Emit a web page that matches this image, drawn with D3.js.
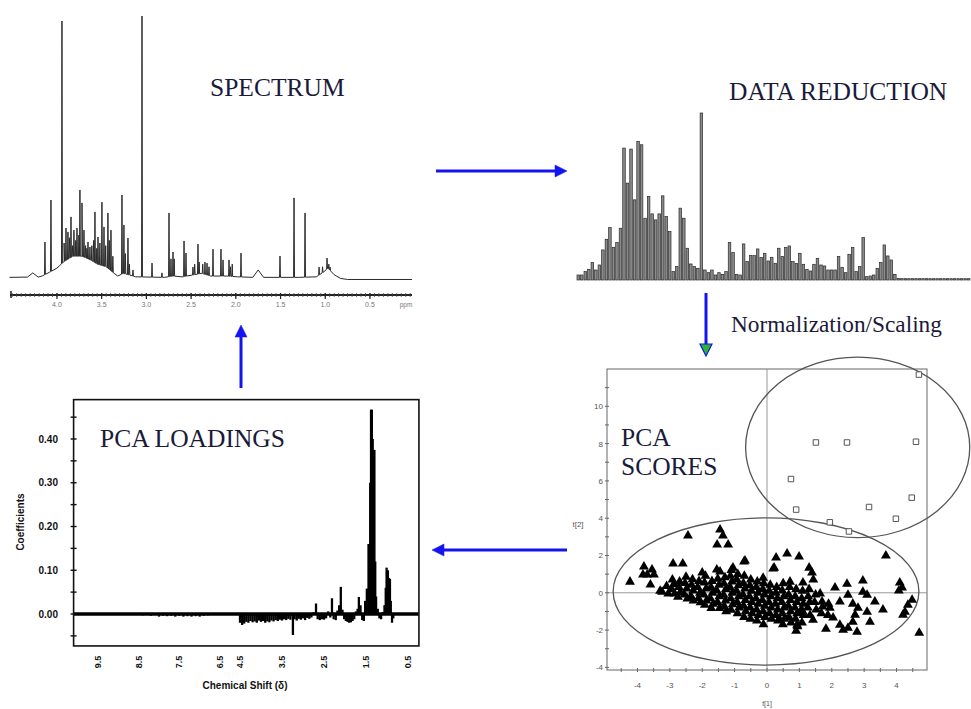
<!DOCTYPE html>
<html><head><meta charset="utf-8">
<script src="https://cdn.jsdelivr.net/npm/d3@7"></script>
<style>html,body{margin:0;padding:0;background:#fff}</style>
</head><body>
<svg id="fig" width="971" height="709"></svg>
<script>
// ---------- 1H NMR spectrum: peak tops [ppm, intensity] and the broad envelope beneath ----------
const spectrumPeaks = [
  [4.134,14.4],[4.067,30.3],[3.944,98.1],[3.92,14],[3.899,19.7],[3.877,18.2],[3.86,16],[3.843,23.9],
  [3.825,13],[3.810,18.9],[3.79,15],[3.776,19.7],[3.755,17],[3.743,34.1],[3.720,29.2],[3.698,18.9],
  [3.68,13],[3.665,12],[3.653,14.4],[3.631,12.5],[3.61,13],[3.59,15],[3.575,25.8],[3.555,12],
  [3.541,16.3],[3.52,14],[3.497,29.5],[3.474,20.1],[3.455,13],[3.430,25.4],[3.415,15],[3.396,18.9],
  [3.375,9],[3.273,32.2],[3.251,20.8],[3.235,10],[3.206,15.9],[3.19,6],[3.150,3.8],[3.049,100],
  [2.937,6.4],[2.826,2.7],[2.747,25.4],[2.725,8],[2.702,10.6],[2.689,8],[2.579,14.8],[2.557,10.2],
  [2.479,4.9],[2.46,6],[2.423,13.6],[2.41,6.8],[2.37,6],[2.345,6.8],[2.322,6.4],[2.30,5],
  [2.255,11.7],[2.166,11.7],[2.143,7.6],[2.076,7.6],[2.06,5],[2.04,6],[1.942,10.2],[1.506,9.1],
  [1.349,31.1],[1.226,25.4],[1.069,4.9],[1.03,5],[0.980,8.3],[0.96,6],[0.946,4.9]
];
const spectrumEnvelope = [
  [4.53,1.0],[4.33,1.1],[4.27,2.7],[4.21,1.1],[4.16,1.6],[4.08,3],[4.00,4.5],[3.92,7],[3.82,9],
  [3.72,9],[3.62,7.5],[3.55,6],[3.45,5],[3.38,3],[3.32,1.5],[3.26,2.5],[3.20,2],[3.12,1.2],
  [2.80,1.0],[2.70,1.5],[2.60,1.2],[2.50,1.8],[2.38,2.5],[2.28,1.5],[2.10,1.5],[1.98,1.2],
  [1.81,1.0],[1.75,3.8],[1.69,1.0],[1.30,1.0],[1.10,1.2],[1.02,3],[0.97,4.5],[0.90,2],
  [0.83,0.6],[0.75,0.2],[0.03,0.2]
];
const spectrumTicks = [4.0,3.5,3.0,2.5,2.0,1.5,1.0,0.5];

// ---------- data-reduced spectrum: one value per bucket ----------
const binnedValues = [
  3,3,5,6.4,10.4,6,9,18,24.4,31.4,19.6,22.4,31,79,58,78.4,48,83,81,37,
  50,39.6,36,39.6,50.4,38,29,5,8,43,37,19,9.6,8,7,100,6,4.4,6,3,
  4.4,3.4,5,22.4,16.4,3.4,3,21.6,11,14.6,14.6,18.6,13.4,16,11.4,13.6,10,19,14,19.4,
  20.4,11,10,16,9.4,6.4,5.4,9.4,13,9,8.4,6,6,6,14,7.6,4.4,15.4,19.4,5,
  8,25.4,2,2.4,3,7,10.4,21,14.4,12,3.4,1,
  0.8,0.8,0.8,0.8,0.8,0.8,0.8,0.8,0.8,0.8,0.8,0.8,0.8,0.8,0.8,0.8,0.8,0.8,0.8,0.8
];

// ---------- PCA loadings: [ppm, coefficient] ----------
const loadingValues = [
  [10.0,0],[9.8,-0.002],[9.5,-0.002],[9.2,0.001],[9.0,-0.002],[8.8,0],[8.6,-0.002],[8.4,-0.003],
  [8.2,-0.004],[8.0,-0.006],[7.9,-0.004],[7.8,-0.005],[7.7,-0.004],[7.6,-0.006],[7.5,-0.004],
  [7.4,-0.006],[7.3,-0.005],[7.2,-0.006],[7.1,-0.005],[7.0,-0.006],[6.9,-0.004],[6.8,-0.003],[6.6,-0.002],
  [4.50,-0.02],[4.45,-0.025],[4.40,-0.022],[4.35,-0.018],[4.30,-0.02],[4.25,-0.016],[4.20,-0.019],
  [4.15,-0.017],[4.10,-0.02],[4.05,-0.015],[4.00,-0.018],[3.95,-0.016],[3.90,-0.02],[3.85,-0.017],
  [3.80,-0.019],[3.75,-0.015],[3.70,-0.017],[3.65,-0.014],[3.60,-0.016],[3.55,-0.013],[3.50,-0.015],
  [3.45,-0.012],[3.40,-0.014],[3.35,-0.011],[3.30,-0.013],[3.24,-0.048],[3.20,-0.012],[3.15,-0.015],
  [3.10,-0.011],[3.05,-0.013],[3.00,-0.01],[2.95,-0.014],[2.90,-0.009],[2.85,-0.011],[2.80,-0.008],
  [2.75,0.004],[2.69,0.024],[2.65,-0.012],[2.60,-0.014],[2.55,-0.012],[2.50,-0.013],[2.45,-0.01],
  [2.40,0.006],[2.35,-0.008],[2.31,0.036],[2.27,-0.012],[2.22,-0.014],[2.18,0.008],[2.14,0.02],
  [2.10,0.062],[2.06,0.01],[2.02,-0.012],[1.98,-0.016],[1.94,-0.018],[1.90,-0.02],[1.86,-0.019],
  [1.82,-0.016],[1.78,-0.012],[1.74,0.006],[1.70,0.012],[1.67,0.039],[1.63,0.02],[1.59,-0.014],
  [1.55,-0.016],[1.52,0.03],[1.48,0.058],[1.44,0.16],[1.42,0.16],[1.40,0.3],[1.38,0.467],
  [1.36,0.467],[1.34,0.4],[1.32,0.375],[1.30,0.375],[1.28,0.12],[1.26,0.04],[1.22,0.012],[1.18,-0.01],
  [1.14,-0.012],[1.10,0.004],[1.06,0.02],[1.03,0.06],[1.01,0.106],[0.98,0.1],[0.95,0.082],[0.93,0.08],
  [0.91,0.03],[0.88,-0.02],[0.85,-0.01],[0.80,0],[0.5,0]
];
const loadingYTicks = [0.0,0.1,0.2,0.3,0.4];
const loadingXTicks = [9.5,8.5,7.5,6.5,4.5,3.5,2.5,1.5,0.5];

// ---------- PCA scores: t[1], t[2] ----------
const scoresTriangles = [
  [-4.23,0.59],[-3.8,1.4],[-3.7,0.97],[-3.55,1.24],[-3.49,0.97],[-3.6,0.43],[-3.83,0.97],[-3.24,0.05],
  [-2.44,3.06],[-1.45,3.39],[-1.36,3.06],[-1.54,2.58],[-1.2,2.58],[-2.9,1.56],[-2.6,1.56],[-1.55,1.24],
  [-1.45,1.13],[-0.71,1.67],[-0.12,0.8],[-2.0,1.08],[-1.05,1.34],[0.28,1.88],[0.62,2.1],[0.99,1.94],
  [0.22,1.34],[1.3,1.34],[1.39,1.08],[1.43,0.7],[3.67,1.99],[2.96,0.65],[2.47,0.48],[2.1,0.27],
  [4.1,0.54],[4.17,0.27],[4.07,0.11],[4.48,-0.38],[4.35,-0.65],[4.26,-1.02],[4.2,-1.18],[4.7,-2.15],
  [3.58,-0.91],[3.33,-0.48],[3.09,-0.11],[2.96,0.05],[2.65,-0.59],[2.81,-0.81],[3.09,-1.02],[3.18,-1.56],
  [2.72,-1.18],[2.65,-1.56],[2.78,-2.1],[2.5,-1.88],[2.35,-1.99],[2.25,-1.72],[1.82,-1.94],[2.04,-1.34],
  [2.25,-0.48],[2.5,-0.11],[1.94,-0.81],[1.7,-0.48],[1.64,-0.05],[1.42,-1.45],[0.9,-2.04],[0.93,-1.72],
  [0.4,-1.45],[1.11,-1.02],[0.71,0.59],[1.11,0.54],[0.19,1.29],[-0.68,1.72],
  [-3.3,0.1],[-3.1,0.35],[-3.05,-0.05],
  [-2.92,0.7],[-2.88,0.45],[-2.95,0.2],[-2.85,-0.05],
  [-2.7,0.6],[-2.72,0.3],[-2.68,0.02],[-2.75,-0.22],
  [-2.5,0.85],[-2.53,0.52],[-2.48,0.22],[-2.55,-0.1],[-2.46,-0.32],
  [-2.3,0.72],[-2.33,0.42],[-2.28,0.12],[-2.35,-0.18],[-2.27,-0.42],
  [-2.1,0.62],[-2.14,0.3],[-2.07,0.0],[-2.12,-0.3],[-2.05,-0.52],
  [-1.9,0.9],[-1.93,0.55],[-1.88,0.22],[-1.95,-0.1],[-1.87,-0.42],[-1.92,-0.65],
  [-1.7,0.62],[-1.73,0.3],[-1.68,0.0],[-1.75,-0.3],[-1.66,-0.6],[-1.72,-0.82],
  [-1.52,0.75],[-1.48,0.42],[-1.55,0.12],[-1.47,-0.2],[-1.53,-0.5],[-1.46,-0.82],
  [-1.3,0.82],[-1.33,0.5],[-1.27,0.2],[-1.34,-0.12],[-1.28,-0.42],[-1.32,-0.72],[-1.26,-1.0],
  [-1.1,1.22],[-1.13,0.9],[-1.08,0.6],[-1.14,0.3],[-1.07,0.0],[-1.12,-0.3],[-1.06,-0.62],[-1.11,-0.92],
  [-0.9,1.0],[-0.93,0.7],[-0.88,0.4],[-0.94,0.1],[-0.87,-0.2],[-0.92,-0.5],[-0.86,-0.8],[-0.91,-1.1],
  [-0.7,0.9],[-0.73,0.52],[-0.68,0.22],[-0.74,-0.1],[-0.67,-0.4],[-0.72,-0.7],[-0.66,-1.0],[-0.71,-1.3],
  [-0.5,0.7],[-0.53,0.4],[-0.48,0.1],[-0.54,-0.2],[-0.47,-0.5],[-0.52,-0.8],[-0.46,-1.1],[-0.51,-1.4],
  [-0.3,0.6],[-0.33,0.3],[-0.28,0.0],[-0.34,-0.3],[-0.27,-0.6],[-0.32,-0.9],[-0.26,-1.2],[-0.31,-1.5],
  [-0.1,0.5],[-0.13,0.2],[-0.08,-0.1],[-0.14,-0.4],[-0.07,-0.7],[-0.12,-1.0],[-0.06,-1.3],[-0.11,-1.7],
  [0.1,0.42],[0.07,0.1],[0.12,-0.2],[0.06,-0.5],[0.13,-0.8],[0.08,-1.1],[0.14,-1.4],
  [0.3,0.3],[0.27,0.0],[0.32,-0.3],[0.26,-0.6],[0.33,-0.9],[0.28,-1.2],[0.34,-1.5],
  [0.5,0.5],[0.47,0.12],[0.52,-0.2],[0.46,-0.5],[0.53,-0.8],[0.48,-1.1],[0.54,-1.4],[0.49,-1.7],
  [0.7,0.3],[0.67,-0.1],[0.72,-0.4],[0.66,-0.7],[0.73,-1.0],[0.68,-1.3],[0.74,-1.6],
  [0.9,0.2],[0.87,-0.2],[0.92,-0.5],[0.86,-0.8],[0.93,-1.1],[0.88,-1.4],[0.94,-1.8],
  [1.1,0.1],[1.07,-0.3],[1.12,-0.6],[1.06,-0.9],[1.13,-1.2],[1.08,-1.6],
  [1.3,0.2],[1.27,-0.2],[1.32,-0.5],[1.26,-0.8],[1.33,-1.2],
  [1.5,-0.1],[1.47,-0.5],[1.52,-0.9],[1.72,-0.75],[1.68,-1.1],[1.9,-0.6],[1.88,-1.2]
];
const scoresSquares = [
  [4.69,11.7],[1.51,8.06],[2.47,8.06],[4.6,8.1],[0.74,6.1],[0.9,4.46],[3.15,4.6],[4.47,5.1],
  [3.98,3.97],[1.94,3.78],[2.53,3.29]
];
const scoreXTicks = [-4,-3,-2,-1,0,1,2,3,4];
const scoreYTicks = [-4,-2,0,2,4,6,8,10];
// confidence ellipses in score units: [centre t1, centre t2, half-width, half-height]
const scoreEllipses = [[2.8,7.8,3.46,4.84],[-0.03,0.07,4.72,3.95]];

// ---------- drawing ----------
const svg = d3.select("#fig");
svg.append("rect").attr("width",971).attr("height",709).attr("fill","#fff");
const titleColor = "#1a1a3a";
const serif = "'Liberation Serif','Times New Roman',serif";
const sans = "'Liberation Sans',Arial,sans-serif";

// ===== Spectrum =====
const spX = d3.scaleLinear().domain([4.525,0.03]).range([10,412]);
const spY = d3.scaleLinear().domain([0,100]).range([280,16]);
const env = d3.scaleLinear().domain(spectrumEnvelope.map(d=>d[0])).range(spectrumEnvelope.map(d=>d[1])).clamp(true);
const spPts = spectrumEnvelope.map(d=>[d[0],d[1]]);
const hw = 0.005;
spectrumPeaks.forEach(([p,h])=>{
  spPts.push([p+hw, env(p+hw)],[p,h],[p-hw, env(p-hw)]);
});
spPts.sort((a,b)=>b[0]-a[0]);
svg.append("path")
  .attr("d", d3.line().x(d=>spX(d[0])).y(d=>spY(d[1]))(spPts))
  .attr("fill","none").attr("stroke","#2a2a2a").attr("stroke-width",1).attr("stroke-linejoin","round");

const spAxis = svg.append("g").attr("transform","translate(0,295)");
spAxis.append("line").attr("x1",spX.range()[0]).attr("x2",spX.range()[1]).attr("stroke","#222").attr("stroke-width",2);
spAxis.append("line").attr("x1",11).attr("x2",11).attr("y1",-4).attr("y2",3).attr("stroke","#222").attr("stroke-width",1.5);
spAxis.selectAll("line.minor").data(d3.range(4.5,0.04,-0.05)).enter().append("line").attr("class","minor")
  .attr("x1",d=>spX(d)).attr("x2",d=>spX(d)).attr("y1",-2).attr("y2",2).attr("stroke","#444").attr("stroke-width",0.8);
spAxis.selectAll("line.major").data(spectrumTicks).enter().append("line").attr("class","major")
  .attr("x1",d=>spX(d)).attr("x2",d=>spX(d)).attr("y1",-2).attr("y2",4).attr("stroke","#222").attr("stroke-width",1.2);
spAxis.selectAll("text").data(spectrumTicks).enter().append("text")
  .attr("x",d=>spX(d)).attr("y",12).attr("text-anchor","middle")
  .attr("font-family",sans).attr("font-size",7).attr("fill","#777").text(d3.format(".1f"));
spAxis.append("text").attr("x",406).attr("y",12).attr("text-anchor","middle")
  .attr("font-family",sans).attr("font-size",6.5).attr("fill","#777").text("ppm");

svg.append("text").attr("x",210).attr("y",96).attr("font-family",serif).attr("font-size",25.5)
  .attr("fill",titleColor).text("SPECTRUM");

// ===== Data reduction (bucketed spectrum) =====
const brX = d3.scaleBand().domain(d3.range(binnedValues.length)).range([577,970]).paddingInner(0.28);
const brY = d3.scaleLinear().domain([0,100]).range([280,113]);
svg.append("g").selectAll("rect").data(binnedValues).enter().append("rect")
  .attr("x",(d,i)=>brX(i)).attr("width",brX.bandwidth())
  .attr("y",d=>brY(d)).attr("height",d=>brY(0)-brY(d))
  .attr("fill","#8a8a8a").attr("stroke","#2a2a2a").attr("stroke-width",0.7);
svg.append("text").attr("x",729).attr("y",100).attr("font-family",serif).attr("font-size",25.5)
  .attr("fill",titleColor).text("DATA REDUCTION");
svg.append("text").attr("x",731).attr("y",332).attr("font-family",serif).attr("font-size",23.3)
  .attr("fill",titleColor).text("Normalization/Scaling");

// ===== PCA loadings =====
const ldX = d3.scaleLinear().domain([9.5,6.5,4.5,0.5]).range([98,220,240,408]);
const ldY = d3.scaleLinear().domain([0,0.4]).range([614,439]);
const ldLeft = ldX(10.1), ldRight = ldX(0.24), ldTop = ldY(0.49), ldBottom = ldY(-0.073);
svg.append("g").selectAll("line").data(loadingValues).enter().append("line")
  .attr("x1",d=>ldX(d[0])).attr("x2",d=>ldX(d[0]))
  .attr("y1",ldY(0)).attr("y2",d=>ldY(d[1]))
  .attr("stroke","#000").attr("stroke-width",2.3);
svg.append("line").attr("x1",ldLeft).attr("x2",ldRight).attr("y1",ldY(0)).attr("y2",ldY(0))
  .attr("stroke","#000").attr("stroke-width",3.5);
svg.append("rect").attr("x",ldLeft).attr("y",ldTop).attr("width",ldRight-ldLeft).attr("height",ldBottom-ldTop)
  .attr("fill","none").attr("stroke","#111").attr("stroke-width",1.6);
svg.append("g").selectAll("line").data(d3.range(-0.05,0.46,0.05)).enter().append("line")
  .attr("x1",ldLeft-3).attr("x2",ldLeft+3).attr("y1",d=>ldY(d)).attr("y2",d=>ldY(d))
  .attr("stroke","#111").attr("stroke-width",1.4);
svg.append("g").selectAll("text").data(loadingYTicks).enter().append("text")
  .attr("x",58).attr("y",d=>ldY(d)+3.5).attr("text-anchor","end")
  .attr("font-family",sans).attr("font-weight","bold").attr("font-size",10).attr("fill","#111")
  .text(d3.format(".2f"));
svg.append("g").selectAll("text").data(loadingXTicks).enter().append("text")
  .attr("transform",d=>`translate(${ldX(d)+3},662) rotate(-90)`).attr("text-anchor","middle")
  .attr("font-family",sans).attr("font-weight","bold").attr("font-size",9).attr("fill","#111")
  .text(d3.format(".1f"));
svg.append("text").attr("transform","translate(24,522) rotate(-90)").attr("text-anchor","middle")
  .attr("font-family",sans).attr("font-weight","bold").attr("font-size",10).attr("fill","#111").text("Coefficients");
svg.append("text").attr("x",245).attr("y",689).attr("text-anchor","middle")
  .attr("font-family",sans).attr("font-weight","bold").attr("font-size",10).attr("fill","#111").text("Chemical Shift (δ)");
svg.append("text").attr("x",100).attr("y",447).attr("font-family",serif).attr("font-size",25.5)
  .attr("fill",titleColor).text("PCA LOADINGS");

// ===== PCA scores =====
const scX = d3.scaleLinear().domain([-4.94,4.94]).range([607,927]);
const scY = d3.scaleLinear().domain([-4.14,12.0]).range([670,369]);
const [sx0,sx1] = scX.range(), [sy0,sy1] = scY.range();
svg.append("rect").attr("x",sx0).attr("y",sy1).attr("width",sx1-sx0).attr("height",sy0-sy1)
  .attr("fill","none").attr("stroke","#666").attr("stroke-width",1);
svg.append("line").attr("x1",scX(0)).attr("x2",scX(0)).attr("y1",sy1).attr("y2",sy0).attr("stroke","#999").attr("stroke-width",1);
svg.append("line").attr("x1",sx0).attr("x2",sx1).attr("y1",scY(0)).attr("y2",scY(0)).attr("stroke","#999").attr("stroke-width",1);
svg.append("g").selectAll("line").data(d3.range(-4.5,4.6,0.5)).enter().append("line")
  .attr("x1",d=>scX(d)).attr("x2",d=>scX(d)).attr("y1",sy0-2).attr("y2",sy0+2).attr("stroke","#666");
svg.append("g").selectAll("line").data(d3.range(-4,12,1)).enter().append("line")
  .attr("y1",d=>scY(d)).attr("y2",d=>scY(d)).attr("x1",sx0-2).attr("x2",sx0+2).attr("stroke","#666");
svg.append("g").selectAll("text").data(scoreXTicks).enter().append("text")
  .attr("x",d=>scX(d)).attr("y",688).attr("text-anchor","middle")
  .attr("font-family",sans).attr("font-size",8).attr("fill","#555").text(d=>d);
svg.append("g").selectAll("text").data(scoreYTicks).enter().append("text")
  .attr("x",603).attr("y",d=>scY(d)+3).attr("text-anchor","end")
  .attr("font-family",sans).attr("font-size",8).attr("fill","#555").text(d=>d);
svg.append("text").attr("x",scX(0)).attr("y",706).attr("text-anchor","middle")
  .attr("font-family",sans).attr("font-size",7).attr("fill","#555").text("t[1]");
svg.append("text").attr("x",578).attr("y",527).attr("text-anchor","middle")
  .attr("font-family",sans).attr("font-size",8).attr("fill","#555").text("t[2]");

svg.append("g").selectAll("ellipse").data(scoreEllipses).enter().append("ellipse")
  .attr("cx",d=>scX(d[0])).attr("cy",d=>scY(d[1]))
  .attr("rx",d=>scX(d[0]+d[2])-scX(d[0])).attr("ry",d=>scY(d[1])-scY(d[1]+d[3]))
  .attr("fill","none").attr("stroke","#555").attr("stroke-width",1.3);

svg.append("g").selectAll("path").data(scoresSquares).enter().append("path")
  .attr("transform",d=>`translate(${scX(d[0])},${scY(d[1])})`)
  .attr("d",d3.symbol(d3.symbolSquare,30)())
  .attr("fill","#fff").attr("stroke","#555").attr("stroke-width",1);
svg.append("g").selectAll("path").data(scoresTriangles).enter().append("path")
  .attr("transform",d=>`translate(${scX(d[0])},${scY(d[1])})`)
  .attr("d",d3.symbol(d3.symbolTriangle,42)())
  .attr("fill","#000");

svg.append("text").attr("x",621).attr("y",446).attr("font-family",serif).attr("font-size",25.5)
  .attr("fill",titleColor).text("PCA");
svg.append("text").attr("x",621).attr("y",475).attr("font-family",serif).attr("font-size",25.5)
  .attr("fill",titleColor).text("SCORES");

// ===== workflow arrows =====
const blue = "#1414f0";
const arrows = svg.append("g");
function arrow(x1,y1,x2,y2,headFill){
  const ang = Math.atan2(y2-y1,x2-x1), L = 12, W = 6;
  const bx = x2 - L*Math.cos(ang), by = y2 - L*Math.sin(ang);
  arrows.append("line").attr("x1",x1).attr("y1",y1).attr("x2",bx).attr("y2",by)
    .attr("stroke",blue).attr("stroke-width",3);
  const px = -Math.sin(ang)*W, py = Math.cos(ang)*W;
  arrows.append("path").attr("d",`M${x2},${y2}L${bx+px},${by+py}L${bx-px},${by-py}Z`)
    .attr("fill",headFill||blue).attr("stroke",blue).attr("stroke-width",headFill?1.2:0.5);
}
arrow(436,171,567,171);
arrow(706,293,706,356,"#2db52d");
arrow(567,550,432,550);
arrow(241,388,241,325);
</script>
</body></html>
